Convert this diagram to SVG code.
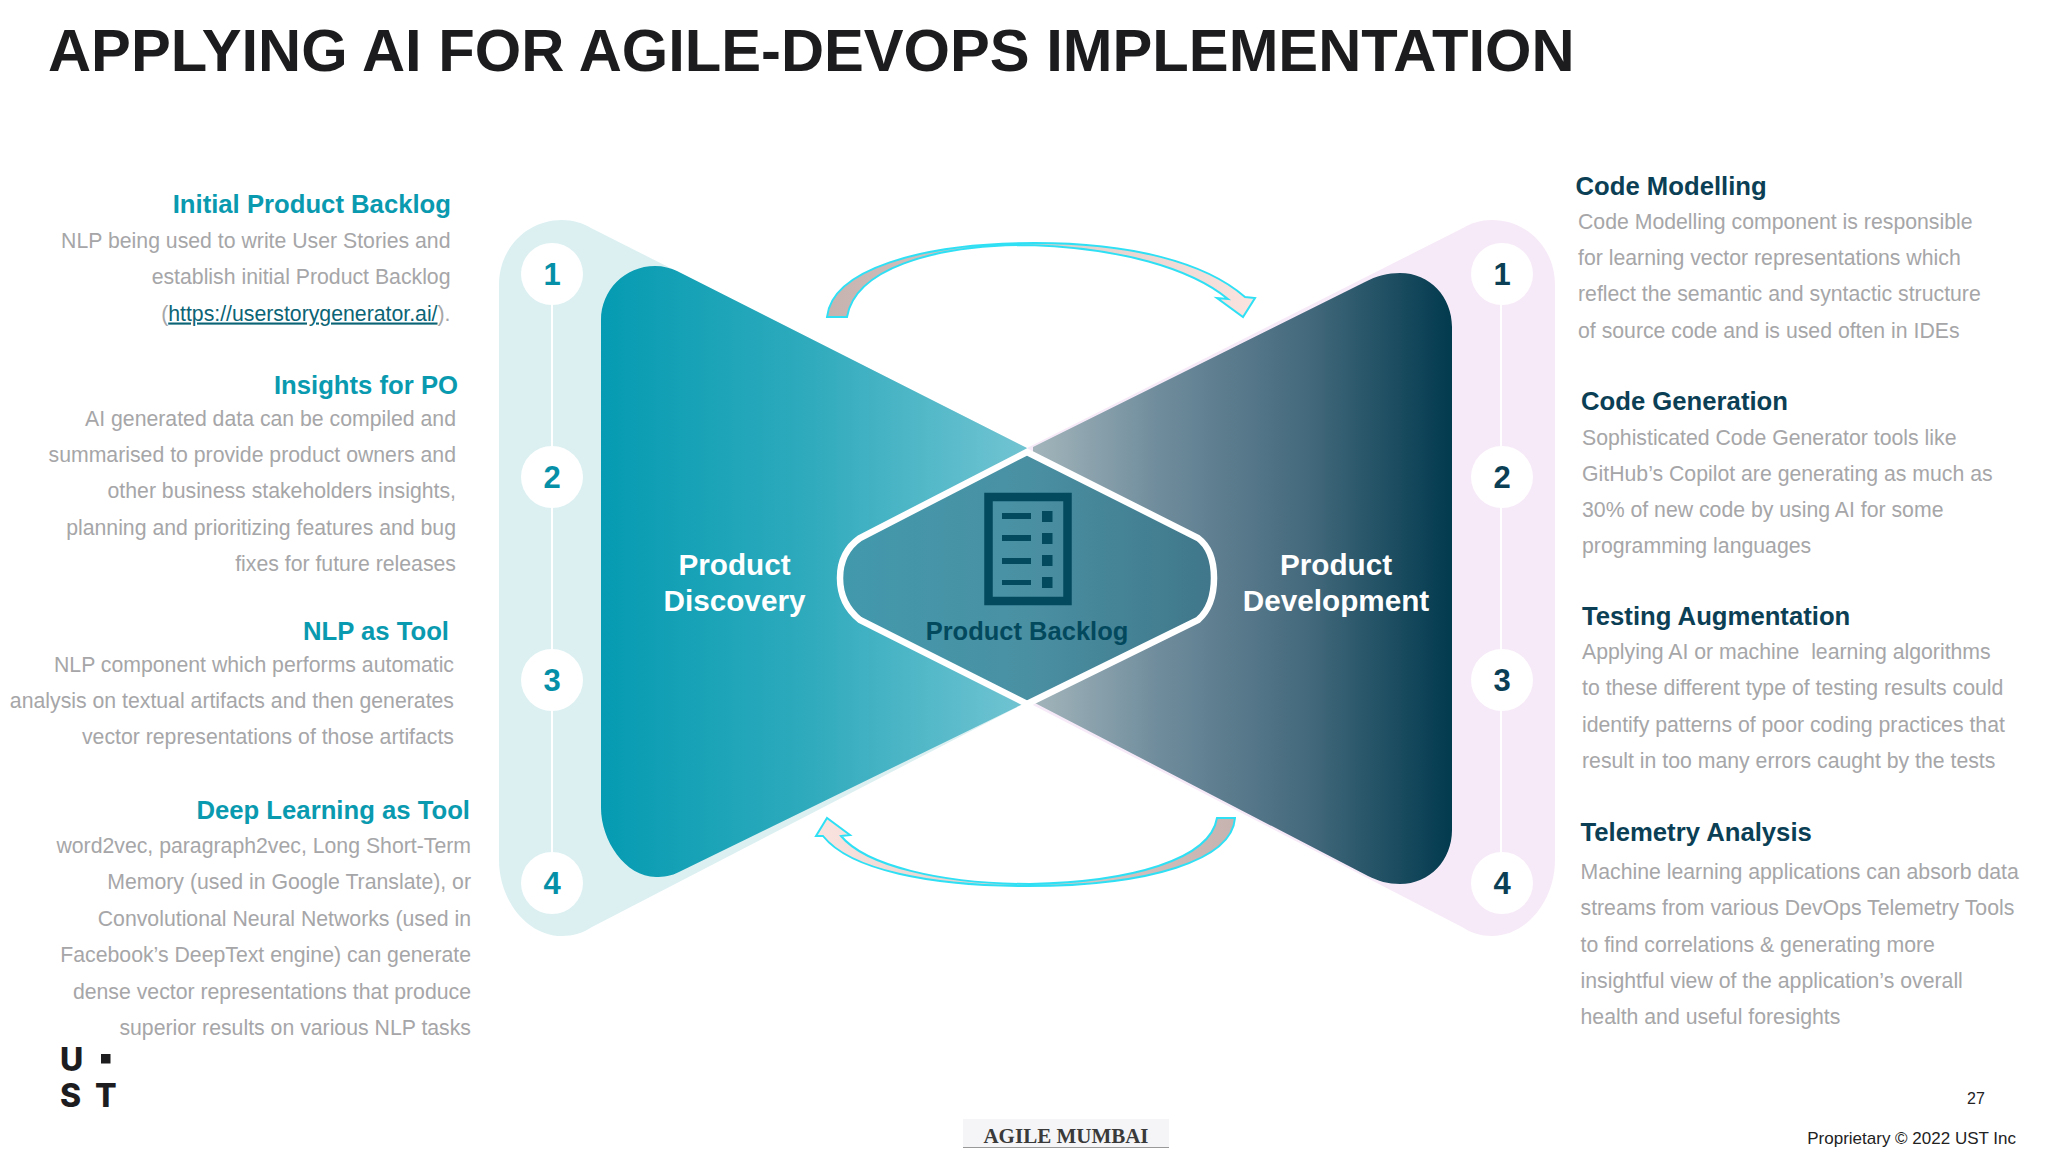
<svg xmlns="http://www.w3.org/2000/svg" width="2048" height="1152" viewBox="0 0 2048 1152">
<style>
text{font-family:"Liberation Sans",Arial,sans-serif}
.b{font-size:21.25px;fill:#a6a6a8}
.r{text-anchor:end}
.hl{font-size:25.7px;font-weight:700;fill:#0a9ab0}
.hr{font-size:25.7px;font-weight:700;fill:#0b3f55}
.n{font-size:31px;font-weight:700;text-anchor:middle}
.nl{fill:#0590a8}.nr{fill:#0b3f55}
.c{fill:#fff}
.m{font-size:29.7px;font-weight:700;fill:#fff;text-anchor:middle}
.ln{fill:#034a5f}
.lg{font-family:"Inter","Liberation Sans",sans-serif;font-size:32px;font-weight:800;fill:#1d1d1f}
.ar{stroke:#2fe0f5;stroke-width:2}
.sp{stroke:#fff;stroke-width:2;fill:none}
</style>
<defs>
<linearGradient id="gl" gradientUnits="userSpaceOnUse" x1="601" y1="0" x2="1027" y2="0"><stop offset="0" stop-color="#059bb2"/><stop offset="0.5" stop-color="#30abbd"/><stop offset="1" stop-color="#72c4d2"/></linearGradient>
<linearGradient id="gr" gradientUnits="userSpaceOnUse" x1="1033" y1="0" x2="1452" y2="0"><stop offset="0" stop-color="#a3b5bb"/><stop offset="0.3" stop-color="#6f8c9c"/><stop offset="0.65" stop-color="#456a7d"/><stop offset="1" stop-color="#023a4e"/></linearGradient>
<linearGradient id="gh" gradientUnits="userSpaceOnUse" x1="837" y1="0" x2="1217" y2="0"><stop offset="0" stop-color="#4299ac"/><stop offset="0.5" stop-color="#4a90a3"/><stop offset="1" stop-color="#407689"/></linearGradient>
<linearGradient id="a1" gradientUnits="userSpaceOnUse" x1="827" y1="0" x2="1255" y2="0"><stop offset="0" stop-color="#c6b2af"/><stop offset="1" stop-color="#fbe4df"/></linearGradient>
<linearGradient id="a2" gradientUnits="userSpaceOnUse" x1="1235" y1="0" x2="816" y2="0"><stop offset="0" stop-color="#c6b2af"/><stop offset="1" stop-color="#fbe4df"/></linearGradient>
</defs>
<rect width="2048" height="1152" fill="#fff"/>
<text id="title" x="48" y="71" font-size="59.7" font-weight="700" fill="#1c1c1e">APPLYING AI FOR AGILE-DEVOPS IMPLEMENTATION</text>

<g id="band-left"><path d="M499,285 C499,248 527,220 562,220 C573,220 583,223 591,228 L1027,448 L1027,702 L592,927 C583,933 573,936 562,936 C527,936 499,900 499,860 Z" fill="#dcf0f2"/></g>
<g id="band-right"><path d="M1555,285 C1555,248 1527,220 1492,220 C1481,220 1471,223 1463,228 L1027,448 L1027,702 L1462,927 C1471,933 1481,936 1492,936 C1527,936 1555,900 1555,860 Z" fill="#f7eaf8"/></g>
<g id="discovery"><path d="M601,320 C601,290 625,266 655,266 C663,266 671,268 677,271 L1027,448 L1027,702 L679,872 C672,876 663,877 656,877 C625,877 601,840 601,808 Z" fill="url(#gl)"/>
<text class="m" x="734.500" y="575">Product</text><text class="m" x="734.500" y="611">Discovery</text></g>
<g id="development"><path d="M1033,447 L1365,282 C1376,276 1388,273 1400,273 C1430,273 1452,297 1452,327 V830 C1452,860 1430,884 1400,884 C1388,884 1378,881 1368,876 L1033,702 Z" fill="url(#gr)"/>
<text class="m" x="1336" y="575">Product</text><text class="m" x="1336" y="611">Development</text></g>
<g id="backlog"><path d="M1027,452 L1198,538 Q1214,550 1214,578 Q1214,606 1198,620 L1027,704 L860,620 Q840,604 840,578 Q840,552 860,538 Z" fill="url(#gh)" stroke="#fff" stroke-width="6.5"/>
<rect x="988.500" y="497" width="79" height="104" fill="none" stroke="#034a5f" stroke-width="8.500"/>
<rect class="ln" x="1002" y="513" width="29" height="6"/><rect class="ln" x="1002" y="535" width="29" height="6"/><rect class="ln" x="1002" y="558" width="29" height="6"/><rect class="ln" x="1002" y="580" width="29" height="5"/>
<rect class="ln" x="1042" y="511" width="10.500" height="11"/><rect class="ln" x="1042" y="533" width="10.500" height="11"/><rect class="ln" x="1042" y="555" width="10.500" height="11"/><rect class="ln" x="1042" y="577" width="10.500" height="11"/>
<text x="1027" y="640" font-size="25.500" font-weight="700" fill="#03495e" text-anchor="middle">Product Backlog</text></g>

<g id="connectors">
<path class="sp" d="M552,274V883"/><path class="sp" d="M1501,274V883"/>
<path class="ar" fill="url(#a1)" d="M827,317 C832,270 920,243 1035,243 C1130,243 1205,262 1245,297 L1255,298 L1243,317 L1217,298 L1228,299 C1190,268 1120,248 1030,245 C930,245 855,270 847,317 Z"/>
<path class="ar" fill="url(#a2)" d="M1235,818 C1232,860 1150,886 1028,886 C930,886 850,870 823,836 L816,836 L827,818 L850,835 L841,836 C865,865 940,884 1030,884 C1130,882 1210,860 1217,818 Z"/>
</g>

<g id="steps-left">
<circle class="c" cx="552" cy="274" r="31"/><text class="n nl" x="552" y="285">1</text>
<circle class="c" cx="552" cy="477" r="31"/><text class="n nl" x="552" y="488">2</text>
<circle class="c" cx="552" cy="680" r="31"/><text class="n nl" x="552" y="691">3</text>
<circle class="c" cx="552" cy="883" r="31"/><text class="n nl" x="552" y="894">4</text>
</g>
<g id="steps-right">
<circle class="c" cx="1502" cy="274" r="31"/><text class="n nr" x="1502" y="285">1</text>
<circle class="c" cx="1502" cy="477" r="31"/><text class="n nr" x="1502" y="488">2</text>
<circle class="c" cx="1502" cy="680" r="31"/><text class="n nr" x="1502" y="691">3</text>
<circle class="c" cx="1502" cy="883" r="31"/><text class="n nr" x="1502" y="894">4</text>
</g>

<g id="initial-backlog"><text class="hl r" x="451" y="213">Initial Product Backlog</text>
<text class="b r" x="450.500" y="247.500">NLP being used to write User Stories and</text>
<text class="b r" x="450.500" y="284">establish initial Product Backlog</text>
<text class="b r" x="450.500" y="320.500">(<tspan fill="#0b6475" text-decoration="underline">https://userstorygenerator.ai/</tspan>).</text></g>
<g id="insights"><text class="hl r" x="458" y="394">Insights for PO</text>
<text class="b r" x="456" y="425.500">AI generated data can be compiled and</text>
<text class="b r" x="456" y="461.500">summarised to provide product owners and</text>
<text class="b r" x="456" y="498">other business stakeholders insights,</text>
<text class="b r" x="456" y="534.500">planning and prioritizing features and bug</text>
<text class="b r" x="456" y="570.500">fixes for future releases</text></g>
<g id="nlp-tool"><text class="hl r" x="449" y="639.500">NLP as Tool</text>
<text class="b r" x="454" y="671.500">NLP component which performs automatic</text>
<text class="b r" x="454" y="707.500">analysis on textual artifacts and then generates</text>
<text class="b r" x="454" y="744">vector representations of those artifacts</text></g>
<g id="deep-learning"><text class="hl r" x="470" y="819">Deep Learning as Tool</text>
<text class="b r" x="471" y="852.500">word2vec, paragraph2vec, Long Short-Term</text>
<text class="b r" x="471" y="889">Memory (used in Google Translate), or</text>
<text class="b r" x="471" y="925.500">Convolutional Neural Networks (used in</text>
<text class="b r" x="471" y="962">Facebook’s DeepText engine) can generate</text>
<text class="b r" x="471" y="998.500">dense vector representations that produce</text>
<text class="b r" x="471" y="1034.500">superior results on various NLP tasks</text></g>

<g id="code-modelling"><text class="hr" x="1575.500" y="195">Code Modelling</text>
<text class="b" x="1578" y="228.500">Code Modelling component is responsible</text>
<text class="b" x="1578" y="264.500">for learning vector representations which</text>
<text class="b" x="1578" y="301">reflect the semantic and syntactic structure</text>
<text class="b" x="1578" y="337.500">of source code and is used often in IDEs</text></g>
<g id="code-generation"><text class="hr" x="1581" y="410">Code Generation</text>
<text class="b" x="1582" y="444.500">Sophisticated Code Generator tools like</text>
<text class="b" x="1582" y="480.500">GitHub’s Copilot are generating as much as</text>
<text class="b" x="1582" y="517">30% of new code by using AI for some</text>
<text class="b" x="1582" y="553">programming languages</text></g>
<g id="testing"><text class="hr" x="1582" y="625">Testing Augmentation</text>
<text class="b" x="1582" y="658.500" xml:space="preserve">Applying AI or machine  learning algorithms</text>
<text class="b" x="1582" y="695">to these different type of testing results could</text>
<text class="b" x="1582" y="731.500">identify patterns of poor coding practices that</text>
<text class="b" x="1582" y="768">result in too many errors caught by the tests</text></g>
<g id="telemetry"><text class="hr" x="1580.500" y="841">Telemetry Analysis</text>
<text class="b" x="1580.500" y="878.500">Machine learning applications can absorb data</text>
<text class="b" x="1580.500" y="915">streams from various DevOps Telemetry Tools</text>
<text class="b" x="1580.500" y="951.500">to find correlations &amp; generating more</text>
<text class="b" x="1580.500" y="988">insightful view of the application’s overall</text>
<text class="b" x="1580.500" y="1024">health and useful foresights</text></g>

<g id="logo"><text class="lg" x="60" y="1071">U</text><rect x="101" y="1054" width="9.500" height="9.500" fill="#1d1d1f"/><text class="lg" x="60" y="1107">S</text><text class="lg" x="95" y="1107">T</text></g>
<g id="watermark"><rect x="963" y="1119" width="206" height="28" fill="#f5f5f7"/><path d="M963,1147.500H1169" stroke="#999" stroke-width="1"/>
<text x="1066" y="1143" font-size="21" font-weight="700" fill="#3a3a3a" text-anchor="middle" style="font-family:'Liberation Serif',serif">AGILE MUMBAI</text></g>
<text x="1976" y="1104" font-size="16" fill="#222" text-anchor="middle">27</text>
<text x="2016" y="1144" font-size="17" fill="#222" text-anchor="end">Proprietary © 2022 UST Inc</text>
</svg>
